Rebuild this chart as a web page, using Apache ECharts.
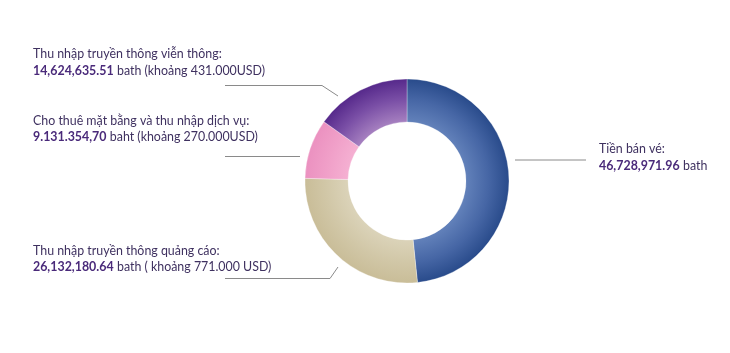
<!DOCTYPE html>
<html>
<head>
<meta charset="utf-8">
<script src="https://cdn.jsdelivr.net/npm/echarts@6/dist/echarts.min.js"></script>
<style>
  html, body { margin: 0; padding: 0; background: #fff; }
  #main { width: 730px; height: 353px; }
</style>
</head>
<body>
<div id="main"></div>
<script>
// data, clockwise from 12 o'clock
const names = ['Tiền bán vé:', 'Thu nhập truyền thông quảng cáo:', 'Cho thuê mặt bằng và thu nhập dịch vụ:', 'Thu nhập truyền thông viễn thông:']
const values = [46728971.96, 26132180.64, 9131354.70, 14624635.51]
const amounts = ['46,728,971.96', '26,132,180.64', '9.131.354,70', '14,624,635.51']
const notes = ['bath', 'bath ( khoảng 771.000 USD)', 'baht (khoảng 270.000USD)', 'bath (khoảng 431.000USD)']

// look
const cx = 407, cy = 181, rIn = 59, rOut = 102
const shades = [
  ['#6281ba', '#4666a5', '#294b8b'],
  ['#dbd3b9', '#d1c7a7', '#c9bd98'],
  ['#f5b0d2', '#f09fc8', '#eb91c0'],
  ['#a680c0', '#7a4fa6', '#56298b']
]
// where each label and its guide line sit
const guides = [
  {x: 599, y: 141, line: [[515, 160], [586, 160]]},
  {x: 33, y: 242.5, line: [[338, 267], [330, 278.5], [225, 278.5]]},
  {x: 33, y: 112.5, line: [[300, 156.5], [225, 156.5]]},
  {x: 33, y: 46, line: [[338, 96], [322, 85.5], [225, 85.5]]}
]

const font = 'Lato, "Noto Sans", sans-serif'
const size = 12.4

function fill(i) {
  return {
    type: 'radial', x: cx, y: cy, r: rOut, global: true,
    colorStops: [
      {offset: rIn / rOut, color: shades[i][0]},
      {offset: 0.8, color: shades[i][1]},
      {offset: 1, color: shades[i][2]}
    ]
  }
}

const data = values.map((v, i) => ({
  value: v,
  name: names[i],
  itemStyle: {color: fill(i)}
}))

const chart = echarts.init(document.getElementById('main'))
chart.setOption({
  animation: false,
  series: [
    {
      type: 'pie',
      center: [cx, cy],
      radius: [rIn, rOut],
      startAngle: 90,
      clockwise: true,
      avoidLabelOverlap: false,
      itemStyle: {borderColor: 'rgba(255,255,255,0.6)', borderWidth: 0.5},
      label: {
        show: true,
        overflow: 'none',
        formatter: p => '{t|' + names[p.dataIndex] + '}\n{b|' + amounts[p.dataIndex] + '} {n|' + notes[p.dataIndex] + '}',
        rich: {
          t: {fontFamily: font, fontSize: size, color: '#3f3160', lineHeight: 16.5},
          b: {fontFamily: font, fontSize: size, fontWeight: 'bold', color: '#4a2a7a', lineHeight: 16.5},
          n: {fontFamily: font, fontSize: size, color: '#3f3160', lineHeight: 16.5}
        }
      },
      labelLine: {show: true, lineStyle: {color: '#8a8a8a', width: 1}},
      labelLayout: p => {
        const g = guides[p.dataIndex]
        return {x: g.x, y: g.y, align: 'left', verticalAlign: 'top', labelLinePoints: g.line}
      },
      emphasis: {disabled: true},
      data: data
    }
  ]
})
</script>
</body>
</html>
